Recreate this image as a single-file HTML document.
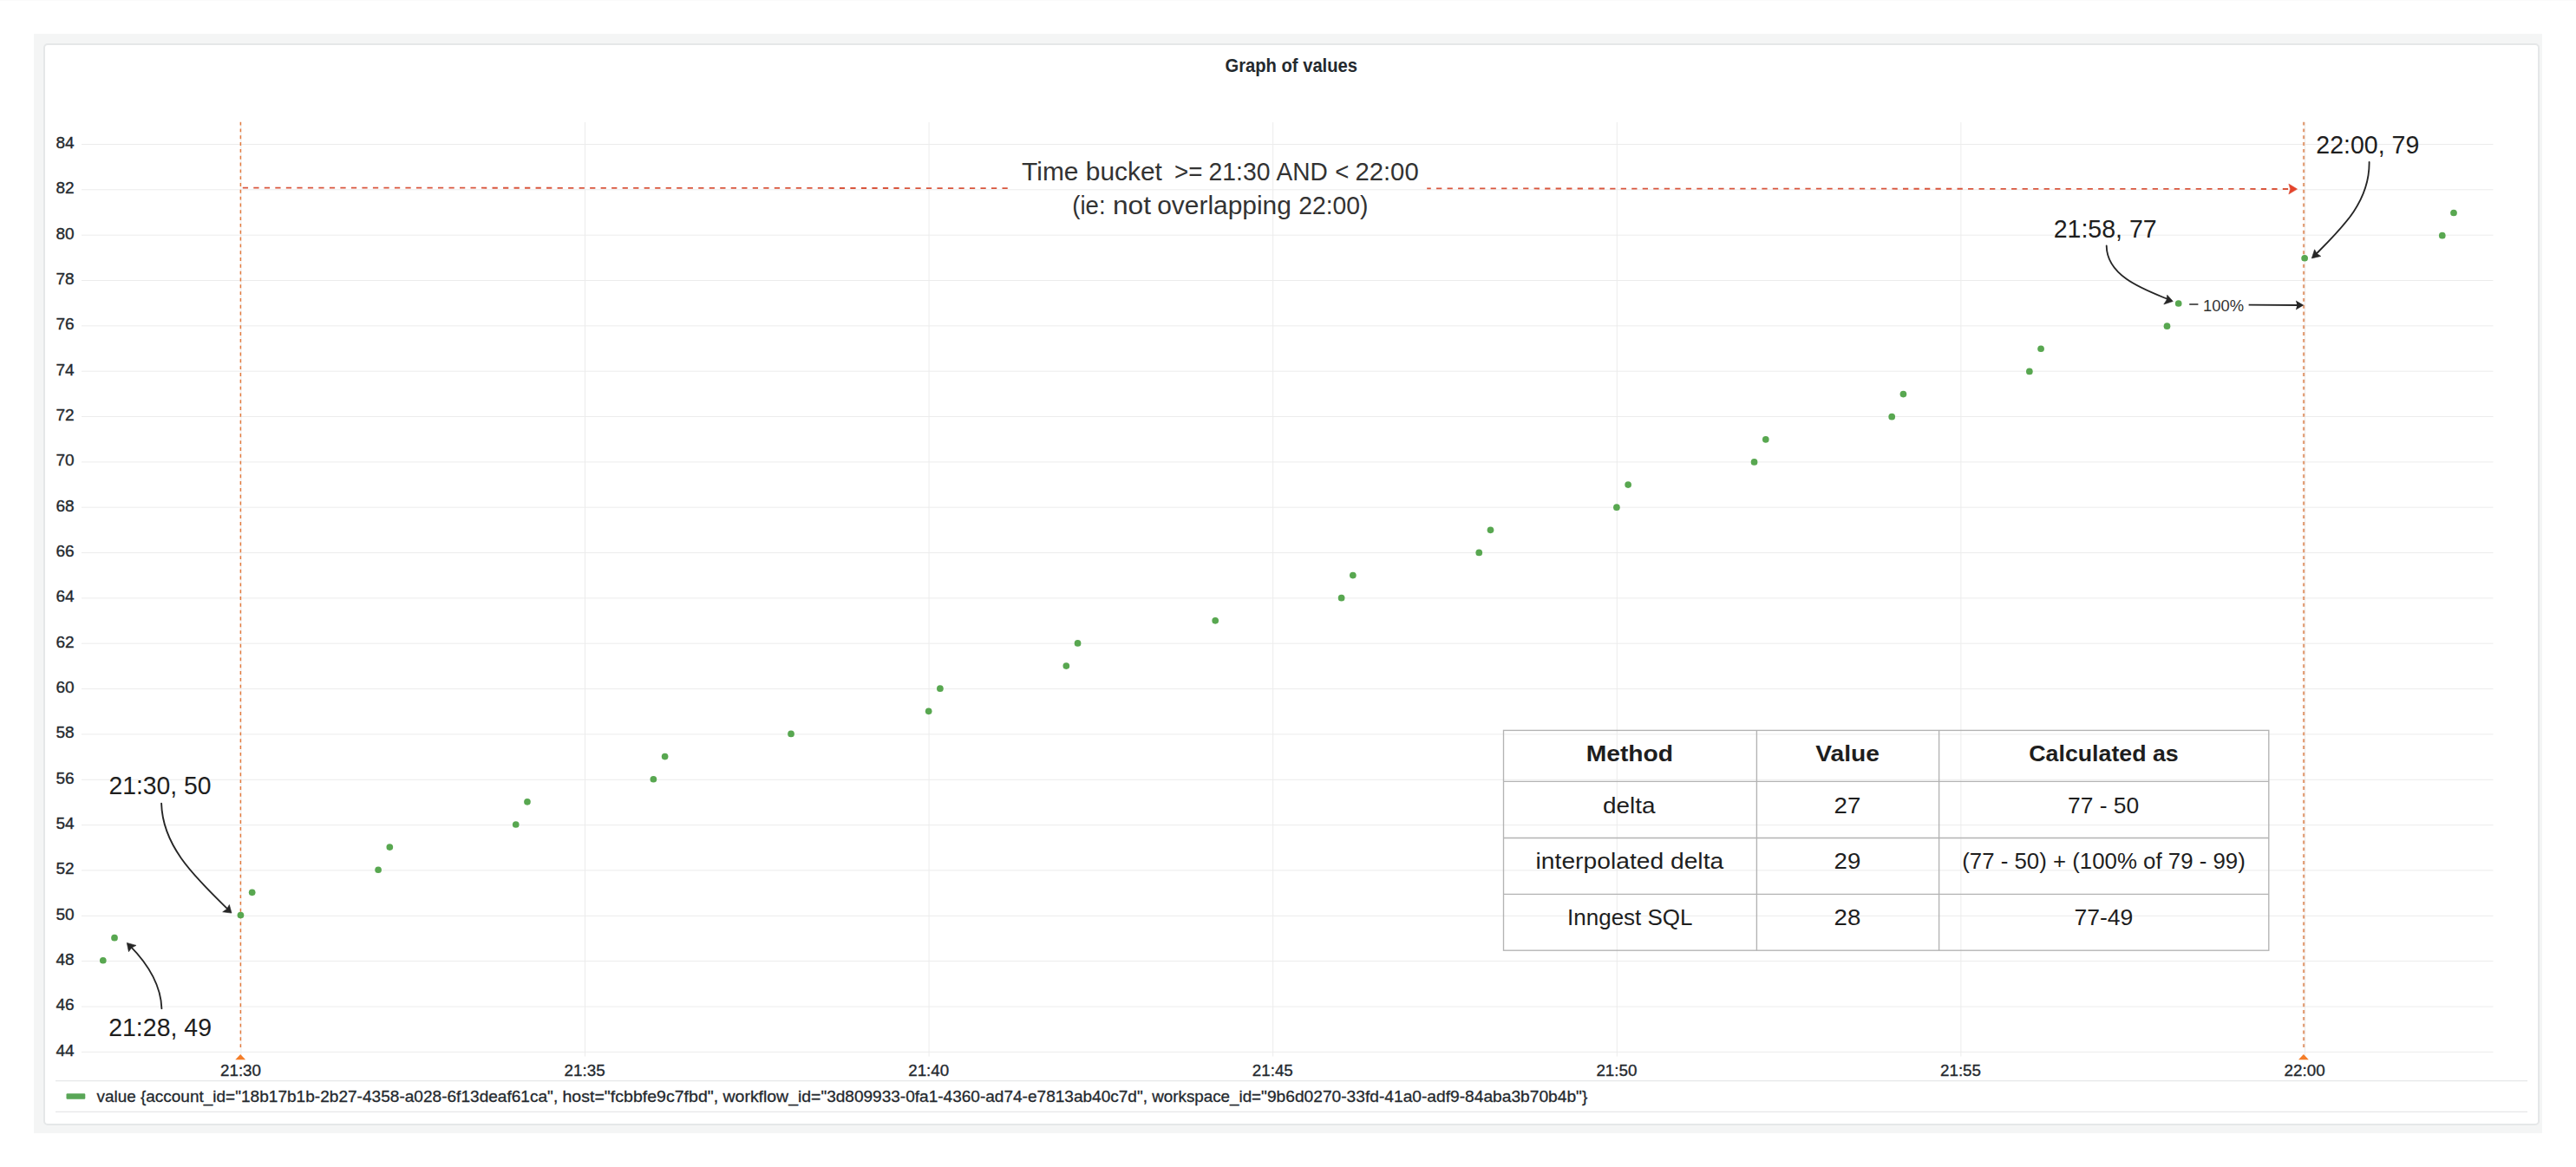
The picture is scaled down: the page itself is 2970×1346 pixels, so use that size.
<!DOCTYPE html>
<html lang="en"><head><meta charset="utf-8"><title>Graph of values</title>
<style>html,body{margin:0;padding:0;background:#fff;}body{width:2970px;height:1346px;overflow:hidden;font-family:"Liberation Sans",sans-serif;}svg{display:block}text{font-family:"Liberation Sans",sans-serif;}</style></head><body>
<svg width="2970" height="1346" viewBox="0 0 2970 1346">
<rect x="0" y="0" width="2970" height="1346" fill="#ffffff"/>
<rect x="0" y="0" width="2970" height="1" fill="#fafafa"/>
<rect x="39" y="39" width="2892" height="1268" fill="#f4f5f5"/>
<rect x="51" y="51" width="2876" height="1246" rx="4" ry="4" fill="#ffffff" stroke="#e5e7e8" stroke-width="2"/>
<text x="1412.5" y="83.2" font-size="22.3" font-weight="bold" fill="#24292e" textLength="152.5" lengthAdjust="spacingAndGlyphs">Graph of values</text>
<g stroke="#ececec" stroke-width="1" fill="none">
<line x1="94" y1="1213.3" x2="2874.5" y2="1213.3"/>
<line x1="94" y1="1161.0" x2="2874.5" y2="1161.0"/>
<line x1="94" y1="1108.6" x2="2874.5" y2="1108.6"/>
<line x1="94" y1="1056.3" x2="2874.5" y2="1056.3"/>
<line x1="94" y1="1003.9" x2="2874.5" y2="1003.9"/>
<line x1="94" y1="951.6" x2="2874.5" y2="951.6"/>
<line x1="94" y1="899.3" x2="2874.5" y2="899.3"/>
<line x1="94" y1="846.9" x2="2874.5" y2="846.9"/>
<line x1="94" y1="794.6" x2="2874.5" y2="794.6"/>
<line x1="94" y1="742.2" x2="2874.5" y2="742.2"/>
<line x1="94" y1="689.9" x2="2874.5" y2="689.9"/>
<line x1="94" y1="637.6" x2="2874.5" y2="637.6"/>
<line x1="94" y1="585.2" x2="2874.5" y2="585.2"/>
<line x1="94" y1="532.9" x2="2874.5" y2="532.9"/>
<line x1="94" y1="480.5" x2="2874.5" y2="480.5"/>
<line x1="94" y1="428.2" x2="2874.5" y2="428.2"/>
<line x1="94" y1="375.9" x2="2874.5" y2="375.9"/>
<line x1="94" y1="323.5" x2="2874.5" y2="323.5"/>
<line x1="94" y1="271.2" x2="2874.5" y2="271.2"/>
<line x1="94" y1="218.8" x2="2874.5" y2="218.8"/>
<line x1="94" y1="166.5" x2="2874.5" y2="166.5"/>
<line x1="277.9" y1="141" x2="277.9" y2="1218.5"/>
<line x1="674.5" y1="141" x2="674.5" y2="1218.5"/>
<line x1="1071.1" y1="141" x2="1071.1" y2="1218.5"/>
<line x1="1467.7" y1="141" x2="1467.7" y2="1218.5"/>
<line x1="1864.3" y1="141" x2="1864.3" y2="1218.5"/>
<line x1="2260.9" y1="141" x2="2260.9" y2="1218.5"/>
<line x1="2657.5" y1="141" x2="2657.5" y2="1218.5"/>
</g>
<g font-size="19" fill="#24292e" stroke="#24292e" stroke-width="0.35" text-anchor="end">
<text x="85.7" y="1217.6">44</text>
<text x="85.7" y="1165.3">46</text>
<text x="85.7" y="1112.9">48</text>
<text x="85.7" y="1060.6">50</text>
<text x="85.7" y="1008.2">52</text>
<text x="85.7" y="955.9">54</text>
<text x="85.7" y="903.6">56</text>
<text x="85.7" y="851.2">58</text>
<text x="85.7" y="798.9">60</text>
<text x="85.7" y="746.5">62</text>
<text x="85.7" y="694.2">64</text>
<text x="85.7" y="641.9">66</text>
<text x="85.7" y="589.5">68</text>
<text x="85.7" y="537.2">70</text>
<text x="85.7" y="484.8">72</text>
<text x="85.7" y="432.5">74</text>
<text x="85.7" y="380.2">76</text>
<text x="85.7" y="327.8">78</text>
<text x="85.7" y="275.5">80</text>
<text x="85.7" y="223.1">82</text>
<text x="85.7" y="170.8">84</text>
</g>
<g font-size="18.8" fill="#24292e" stroke="#24292e" stroke-width="0.35" text-anchor="middle">
<text x="277.5" y="1241">21:30</text>
<text x="674.1" y="1241">21:35</text>
<text x="1070.7" y="1241">21:40</text>
<text x="1467.3" y="1241">21:45</text>
<text x="1863.9" y="1241">21:50</text>
<text x="2260.5" y="1241">21:55</text>
<text x="2657.1" y="1241">22:00</text>
</g>
<line x1="277.4" y1="140.65" x2="277.4" y2="1209" stroke="#e27a3e" stroke-width="1.5" stroke-dasharray="3.9 3.92"/>
<path d="M277.2 1216.1 L271.3 1222.2 L283.1 1222.2 Z" fill="#f47d28"/>
<line x1="2656.1" y1="140.65" x2="2656.1" y2="1209" stroke="#e3a079" stroke-width="2.3" stroke-dasharray="3.9 3.92"/>
<path d="M2655.9 1216.1 L2650.0 1222.2 L2661.8 1222.2 Z" fill="#f47d28"/>
<g stroke="#e6e7e8" stroke-width="1.3">
<line x1="64" y1="1246.6" x2="2914" y2="1246.6"/>
<line x1="64" y1="1282.3" x2="2914" y2="1282.3"/>
</g>
<rect x="76.5" y="1261.2" width="21.8" height="6.6" rx="1.2" ry="1.2" fill="#59a657"/>
<text y="1270.7" font-size="19" fill="#24292e" stroke="#24292e" stroke-width="0.3" xml:space="preserve" style="white-space:pre">
<tspan x="111.5" textLength="50.4" lengthAdjust="spacingAndGlyphs">value </tspan>
<tspan x="161.9" textLength="109.3" lengthAdjust="spacingAndGlyphs">{account_id=</tspan>
<tspan x="271.2" textLength="377.3" lengthAdjust="spacingAndGlyphs">&quot;18b17b1b-2b27-4358-a028-6f13deaf61ca&quot;, </tspan>
<tspan x="648.5" textLength="185.1" lengthAdjust="spacingAndGlyphs">host=&quot;fcbbfe9c7fbd&quot;, </tspan>
<tspan x="833.6" textLength="112.8" lengthAdjust="spacingAndGlyphs">workflow_id=</tspan>
<tspan x="946.4" textLength="381.9" lengthAdjust="spacingAndGlyphs">&quot;3d809933-0fa1-4360-ad74-e7813ab40c7d&quot;, </tspan>
<tspan x="1328.3" textLength="125.8" lengthAdjust="spacingAndGlyphs">workspace_id=</tspan>
<tspan x="1454.1" textLength="376.2" lengthAdjust="spacingAndGlyphs">&quot;9b6d0270-33fd-41a0-adf9-84aba3b70b4b&quot;}</tspan>
</text>
<g fill="#58a750">
<circle cx="118.80" cy="1107.76" r="3.85"/>
<circle cx="132.02" cy="1081.63" r="3.85"/>
<circle cx="277.45" cy="1055.50" r="3.85"/>
<circle cx="290.67" cy="1029.37" r="3.85"/>
<circle cx="436.10" cy="1003.24" r="3.85"/>
<circle cx="449.32" cy="977.11" r="3.85"/>
<circle cx="594.74" cy="950.98" r="3.85"/>
<circle cx="607.96" cy="924.85" r="3.85"/>
<circle cx="753.39" cy="898.73" r="3.85"/>
<circle cx="766.61" cy="872.60" r="3.85"/>
<circle cx="912.03" cy="846.47" r="3.85"/>
<circle cx="1070.68" cy="820.34" r="3.85"/>
<circle cx="1083.90" cy="794.21" r="3.85"/>
<circle cx="1229.33" cy="768.08" r="3.85"/>
<circle cx="1242.55" cy="741.95" r="3.85"/>
<circle cx="1401.19" cy="715.82" r="3.85"/>
<circle cx="1546.62" cy="689.69" r="3.85"/>
<circle cx="1559.84" cy="663.56" r="3.85"/>
<circle cx="1705.26" cy="637.44" r="3.85"/>
<circle cx="1718.48" cy="611.31" r="3.85"/>
<circle cx="1863.91" cy="585.18" r="3.85"/>
<circle cx="1877.13" cy="559.05" r="3.85"/>
<circle cx="2022.56" cy="532.92" r="3.85"/>
<circle cx="2035.78" cy="506.79" r="3.85"/>
<circle cx="2181.20" cy="480.66" r="3.85"/>
<circle cx="2194.42" cy="454.53" r="3.85"/>
<circle cx="2339.85" cy="428.40" r="3.85"/>
<circle cx="2353.07" cy="402.27" r="3.85"/>
<circle cx="2498.49" cy="376.15" r="3.85"/>
<circle cx="2511.71" cy="350.02" r="3.85"/>
<circle cx="2657.14" cy="297.76" r="3.85"/>
<circle cx="2815.79" cy="271.63" r="3.85"/>
<circle cx="2829.01" cy="245.50" r="3.85"/>
</g>
<g stroke="#d9553c" stroke-width="1.8" fill="none" stroke-dasharray="6.25 6.26">
<line x1="279.8" y1="216.55" x2="1161.8" y2="217.1"/>
<line x1="1645.2" y1="217.4" x2="2640.5" y2="218" stroke-dashoffset="1.65"/>
</g>
<path d="M2648.7 218.1 L2638.8 212.1 L2640.6 218.1 L2638.8 224 Z" fill="#e5432b" stroke="#d9553c" stroke-width="0.5" stroke-linejoin="round"/>
<g font-size="29.6" fill="#333333">
<text y="207.5">
<tspan x="1178.1" textLength="161.8" lengthAdjust="spacingAndGlyphs">Time bucket</tspan>
<tspan x="1354.0" textLength="32.4" lengthAdjust="spacingAndGlyphs">&gt;=</tspan>
<tspan x="1393.6" textLength="70.9" lengthAdjust="spacingAndGlyphs">21:30</tspan>
<tspan x="1471.6" textLength="59.3" lengthAdjust="spacingAndGlyphs">AND</tspan>
<tspan x="1539.2" textLength="16.1" lengthAdjust="spacingAndGlyphs">&lt;</tspan>
<tspan x="1562.4" textLength="73.3" lengthAdjust="spacingAndGlyphs">22:00</tspan>
</text>
<text y="247.1">
<tspan x="1236.3" textLength="38.3" lengthAdjust="spacingAndGlyphs">(ie:</tspan>
<tspan x="1282.9" textLength="44.2" lengthAdjust="spacingAndGlyphs">not</tspan>
<tspan x="1334.2" textLength="154.7" lengthAdjust="spacingAndGlyphs">overlapping</tspan>
<tspan x="1497.2" textLength="80.3" lengthAdjust="spacingAndGlyphs">22:00)</tspan>
</text>
</g>
<g font-size="30" fill="#1e1e1e">
<text x="125.4" y="916.2" textLength="118.2" lengthAdjust="spacingAndGlyphs">21:30, 50</text>
<text x="125.2" y="1195.1" textLength="118.8" lengthAdjust="spacingAndGlyphs">21:28, 49</text>
<text x="2670.3" y="177" textLength="119" lengthAdjust="spacingAndGlyphs">22:00, 79</text>
<text x="2367.7" y="273.8" textLength="119" lengthAdjust="spacingAndGlyphs">21:58, 77</text>
</g>
<path d="M186.1 926.6 C187.5 978.1 228.1 1014.3 262.2 1048.3" stroke="#262626" stroke-width="1.85" fill="none" stroke-linecap="round"/>
<path d="M267.0 1053.1 L264.4 1043.5 L261.5 1048.5 L256.7 1051.8 Z" fill="#262626" stroke="#262626" stroke-width="0.6" stroke-linejoin="round"/>
<path d="M186.4 1163.2 C185.5 1134.6 168.6 1109.7 149.1 1090.1" stroke="#262626" stroke-width="1.85" fill="none" stroke-linecap="round"/>
<path d="M146.3 1087.4 L157.0 1090.4 L151.8 1093.1 L148.4 1097.7 Z" fill="#262626" stroke="#262626" stroke-width="0.6" stroke-linejoin="round"/>
<path d="M2731.6 187.0 C2732.2 233.1 2699.5 263.7 2669.7 293.6" stroke="#262626" stroke-width="1.85" fill="none" stroke-linecap="round"/>
<path d="M2665.3 297.9 L2668.6 287.8 L2671.2 292.5 L2675.8 295.5 Z" fill="#262626" stroke="#262626" stroke-width="0.6" stroke-linejoin="round"/>
<path d="M2428.7 283.5 C2429.1 319.3 2473.0 334.2 2501.4 345.9" stroke="#262626" stroke-width="1.85" fill="none" stroke-linecap="round"/>
<path d="M2505.3 347.5 L2498.7 340.2 L2498.0 345.9 L2494.8 351.0 Z" fill="#262626" stroke="#262626" stroke-width="0.6" stroke-linejoin="round"/>
<line x1="2524.2" y1="351" x2="2534.4" y2="351" stroke="#333" stroke-width="1.6"/>
<text x="2540" y="358.6" font-size="18.6" fill="#333333" textLength="47" lengthAdjust="spacingAndGlyphs">100%</text>
<line x1="2592.6" y1="351.6" x2="2650" y2="352" stroke="#262626" stroke-width="1.8"/>
<path d="M2656.2 352.0 L2646.9 357.5 L2648.5 352.0 L2646.9 346.5 Z" fill="#262626"/>
<g stroke="#b3b3b3" stroke-width="1.35" fill="none">
<rect x="1733.5" y="842.4" width="882.3" height="253.8"/>
<line x1="1733.5" y1="901.3" x2="2615.8" y2="901.3"/>
<line x1="1733.5" y1="966.5" x2="2615.8" y2="966.5"/>
<line x1="1733.5" y1="1031.3" x2="2615.8" y2="1031.3"/>
<line x1="2025.4" y1="842.4" x2="2025.4" y2="1096.2"/>
<line x1="2235.6" y1="842.4" x2="2235.6" y2="1096.2"/>
</g>
<g font-size="26.4" fill="#1e1e1e">
<text x="1828.7" y="877.9" textLength="100.4" lengthAdjust="spacingAndGlyphs" font-weight="bold">Method</text>
<text x="2093.3" y="877.9" textLength="73.6" lengthAdjust="spacingAndGlyphs" font-weight="bold">Value</text>
<text x="2339.3" y="877.9" textLength="172.4" lengthAdjust="spacingAndGlyphs" font-weight="bold">Calculated as</text>
<text x="1848.1" y="937.8" textLength="60.5" lengthAdjust="spacingAndGlyphs">delta</text>
<text x="2114.6" y="937.8" textLength="30.7" lengthAdjust="spacingAndGlyphs">27</text>
<text x="2384.0" y="937.8" textLength="82.2" lengthAdjust="spacingAndGlyphs">77 - 50</text>
<text x="1770.6" y="1001.9" textLength="216.6" lengthAdjust="spacingAndGlyphs">interpolated delta</text>
<text x="2114.6" y="1001.9" textLength="30.7" lengthAdjust="spacingAndGlyphs">29</text>
<text x="2262.2" y="1001.9" textLength="326.6" lengthAdjust="spacingAndGlyphs">(77 - 50) + (100% of 79 - 99)</text>
<text x="1807.1" y="1066.8" textLength="144.4" lengthAdjust="spacingAndGlyphs">Inngest SQL</text>
<text x="2114.6" y="1066.8" textLength="30.7" lengthAdjust="spacingAndGlyphs">28</text>
<text x="2391.4" y="1066.8" textLength="68.0" lengthAdjust="spacingAndGlyphs">77-49</text>
</g>
</svg></body></html>
